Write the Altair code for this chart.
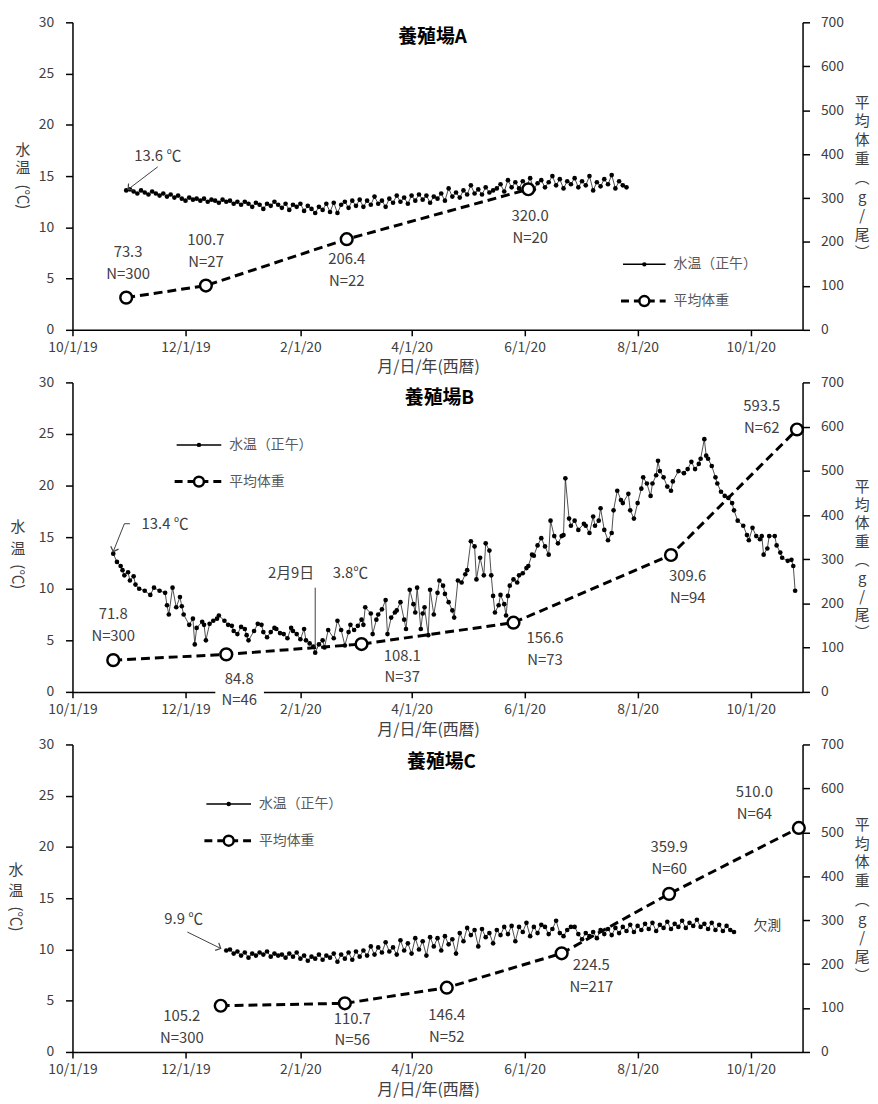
import altair as alt
import pandas as pd

FONT = "Noto Sans CJK JP"
GREY = "#404040"
LEG = "#595959"
BASE = pd.Timestamp("2019-10-01")


def to_date(day):
    return (BASE + pd.Timedelta(days=int(day))).strftime("%Y-%m-%d")


# ======================= DATA =======================
# Farm A: noon water temperature (every 2nd day from 2019-10-30)
A_temp_first_day = 29
A_temp_every = 2
A_temp = [
    13.6, 13.7, 13.5, 13.3, 13.6, 13.4, 13.2, 13.5, 13.3, 13.1,
    13.3, 13.0, 13.2, 12.9, 13.1, 12.8, 12.6, 12.9, 12.7, 12.8,
    12.6, 12.8, 12.5, 12.7, 12.6, 12.4, 12.7, 12.5, 12.6, 12.3,
    12.5, 12.2, 12.5, 12.3, 12.0, 12.4, 12.2, 11.8, 12.3, 12.1,
    12.5, 12.2, 11.9, 12.3, 11.7, 12.2, 12.0, 12.3, 11.6, 12.1,
    11.8, 11.4, 12.0, 11.7, 12.3, 11.5, 12.4, 11.4, 12.2, 12.5,
    11.9, 12.6, 12.1, 12.7, 12.0, 12.6, 12.2, 13.0, 12.3, 12.6,
    12.0, 12.8, 12.4, 13.1, 12.5, 12.9, 12.3, 13.1, 12.6, 13.2,
    12.7, 13.1, 12.4, 13.0, 12.8, 13.3, 12.6, 13.8, 13.0, 13.4,
    12.9, 13.6, 13.2, 14.1, 13.3, 13.7, 13.2, 13.9, 13.4, 13.6,
    13.8, 14.2, 13.5, 14.6, 13.9, 14.4, 13.8, 14.5, 14.0, 14.8,
    13.7, 14.3, 14.6, 13.9, 14.4, 15.0, 14.1, 14.7, 13.8, 14.5,
    14.2, 14.8, 13.9, 14.5, 14.1, 15.0, 13.6, 14.4, 14.0, 14.7,
    14.2, 15.1, 13.8, 14.5, 14.1, 13.9,
]
A_weight_date = ["2019-10-30", "2019-12-12", "2020-02-26", "2020-06-03"]
A_weight = [73.3, 100.7, 206.4, 320.0]
A_n = ["N=300", "N=27", "N=22", "N=20"]

# Farm B: noon water temperature (day = days since 2019-10-01)
B_temp_day = [
    22, 24, 26, 27, 28, 30, 31, 33, 34, 36, 39, 42, 44, 47, 50, 51, 52, 54, 56, 58,
    59, 60, 63, 65, 66, 67, 70, 71, 72, 74, 76, 78, 79, 82, 84, 86, 87, 89, 91, 93,
    94, 95, 98, 100, 102, 103, 105, 107, 109, 110, 112, 114, 116, 118, 119, 121, 123, 125, 126, 128,
    130, 131, 133, 135, 136, 138, 141, 143, 145, 147, 149, 150, 152, 154, 156, 157, 158, 161, 162, 164,
    165, 167, 169, 170, 172, 174, 175, 177, 179, 180, 182, 184, 185, 186, 188, 189, 190, 192, 193, 195,
    197, 198, 200, 201, 203, 205, 206, 208, 210, 212, 213, 215, 217, 218, 220, 222, 223, 225, 226, 227,
    228, 230, 231, 233, 234, 235, 236, 238, 240, 241, 243, 245, 246, 248, 249, 251, 253, 255, 257, 258,
    260, 262, 264, 265, 266, 268, 269, 271, 273, 276, 277, 279, 281, 282, 284, 285, 287, 289, 291, 292,
    294, 296, 297, 300, 301, 303, 305, 307, 308, 310, 312, 313, 315, 316, 317, 319, 321, 323, 324, 327,
    330, 332, 334, 336, 338, 339, 341, 342, 343, 345, 347, 348, 350, 352, 354, 356, 357, 359, 362, 364,
    365, 367, 369, 371, 372, 373, 375, 376, 379, 380, 382, 383, 386, 388, 389, 390,
]
B_temp = [
    13.4, 12.6, 12.2, 11.8, 11.3, 11.6, 10.8, 11.2, 10.4, 10.0, 9.8, 9.4, 10.1, 9.8, 9.6, 8.4, 7.5, 10.1, 8.2, 9.2,
    8.3, 7.5, 6.5, 7.1, 4.6, 6.2, 6.8, 6.5, 5.0, 6.6, 6.9, 7.1, 7.4, 6.9, 6.5, 6.4, 5.9, 5.6, 6.3, 6.1,
    5.5, 5.0, 5.9, 6.6, 6.5, 5.8, 5.3, 5.8, 6.2, 6.1, 5.7, 5.6, 5.2, 6.2, 5.9, 5.6, 5.1, 6.1, 5.0, 4.7,
    4.4, 3.8, 4.6, 5.0, 4.3, 6.0, 5.2, 6.9, 6.0, 4.5, 5.8, 6.5, 6.0, 6.4, 7.0, 6.5, 8.2, 7.6, 5.6, 7.0,
    7.5, 8.0, 8.9, 5.6, 7.2, 7.7, 7.9, 8.7, 7.0, 6.1, 9.9, 8.5, 7.7, 10.1, 6.1, 7.6, 8.2, 5.5, 9.9, 7.5,
    9.6, 10.8, 10.3, 9.5, 8.7, 7.9, 7.2, 10.8, 10.6, 11.4, 11.8, 14.6, 14.1, 10.9, 13.0, 11.3, 14.4, 13.7, 11.3, 9.3,
    7.7, 8.4, 9.4, 8.5, 7.4, 9.3, 10.3, 10.9, 10.6, 11.3, 11.5, 12.0, 12.2, 13.3, 13.2, 14.2, 14.9, 14.1, 13.3, 16.6,
    15.1, 14.4, 15.1, 15.2, 20.7, 16.8, 16.1, 16.6, 15.7, 16.3, 16.1, 15.4, 17.0, 16.1, 16.6, 17.8, 15.7, 14.7, 15.4, 17.6,
    19.5, 18.6, 18.3, 19.2, 17.6, 16.8, 18.3, 19.7, 20.8, 20.2, 19.0, 20.2, 21.0, 22.4, 21.4, 20.8, 19.9, 19.5, 20.4, 21.4,
    21.2, 21.6, 22.3, 21.6, 22.1, 22.6, 24.5, 22.9, 22.6, 21.9, 20.8, 20.2, 19.4, 19.0, 18.8, 18.3, 17.6, 16.6, 16.1, 15.2,
    14.7, 15.9, 15.1, 14.8, 15.1, 13.3, 13.9, 15.1, 15.1, 14.2, 13.5, 13.0, 12.7, 12.8, 12.2, 9.8,
]
B_weight_date = ["2019-10-23", "2019-12-23", "2020-03-05", "2020-05-26", "2020-08-19", "2020-10-26"]
B_weight = [71.8, 84.8, 108.1, 156.6, 309.6, 593.5]
B_n = ["N=300", "N=46", "N=37", "N=73", "N=94", "N=62"]

# Farm C: noon water temperature (every 2nd day from 2019-12-23)
C_temp_first_day = 83
C_temp_every = 2
C_temp = [
    9.9, 10.0, 9.6, 9.8, 9.4, 9.7, 9.2, 9.6, 9.4, 9.7,
    9.5, 9.8, 9.3, 9.6, 9.4, 9.5, 9.2, 9.6, 9.3, 9.7,
    9.1, 9.4, 8.9, 9.3, 9.1, 9.5, 9.0, 9.4, 9.2, 9.6,
    8.8, 9.5, 9.1, 9.7, 9.0, 9.8, 9.3, 9.9, 9.4, 10.3,
    9.5, 10.2, 9.7, 10.7, 9.8, 10.2, 9.5, 10.9, 9.9, 10.6,
    9.6, 11.1, 10.0, 10.8, 9.4, 11.2, 10.3, 11.1, 9.9, 11.3,
    10.5, 11.0, 9.6, 11.6, 10.8, 12.1, 11.4, 11.9, 10.3, 12.0,
    11.2, 11.6, 10.6, 11.9, 11.4, 12.2, 11.5, 12.3, 10.8, 12.2,
    11.7, 12.6, 11.3, 12.2, 11.6, 12.4, 12.2, 11.5, 12.0, 12.8,
    11.6, 11.3, 11.9, 12.2, 12.2, 11.5, 11.0, 11.6, 11.3, 11.7,
    11.1, 11.9, 11.5, 12.0, 11.4, 12.1, 11.6, 12.2, 11.8, 12.4,
    11.7, 12.3, 11.9, 12.5, 12.0, 12.6, 11.8, 12.4, 12.1, 12.7,
    12.0, 12.5, 12.2, 12.8, 12.1, 12.6, 12.3, 12.9, 12.2, 12.5,
    12.0, 12.6, 11.9, 12.4, 11.8, 12.3, 11.9, 11.7,
]
C_weight_date = ["2019-12-20", "2020-02-25", "2020-04-20", "2020-06-21", "2020-08-18", "2020-10-27"]
C_weight = [105.2, 110.7, 146.4, 224.5, 359.9, 510.0]
C_n = ["N=300", "N=56", "N=52", "N=217", "N=60", "N=64"]

# label anchors: first line of each label (days since 2019-10-01, weight units)
A_lab_day = [30, 72, 148, 247]
A_lab_w = [177, 204, 161, 258]
B_lab_day = [22, 90, 178, 255, 332, 372]
B_lab_w = [176, 30, 82, 122, 262, 647]
C_lab_day = [59, 151, 202, 280, 322, 368]
C_lab_w = [81, 76, 84, 198, 467, 592]

X_TICK_YM = [(2019, 10), (2019, 12), (2020, 2), (2020, 4), (2020, 6), (2020, 8), (2020, 10)]

# ======================= HELPERS =======================
W = 736
X_DOMAIN = [alt.DateTime(year=2019, month=10, date=1, utc=True),
            alt.DateTime(year=2020, month=10, date=29, utc=True)]
XAXIS = alt.Axis(
    values=[alt.DateTime(year=y, month=m, date=1, utc=True) for y, m in X_TICK_YM],
    labelExpr="utcFormat(datum.value, '%-m/%-d/%y')",
    title=None, grid=False, tickSize=6, tickWidth=1.5, tickColor="black",
    domainColor="black", domainWidth=1.5, labelPadding=5, labelFontSize=14,
    labelColor=GREY, labelFont=FONT, labelFlush=False, labelOverlap=False,
)
TAXIS = alt.Axis(
    values=list(range(0, 31, 5)), orient="left", title=None, grid=False,
    tickSize=7, tickWidth=1.5, tickColor="black", domainColor="black", domainWidth=1.5,
    labelPadding=12, labelFontSize=14, labelColor=GREY, labelFont=FONT, labelFlush=False,
)
WAXIS = alt.Axis(
    values=list(range(0, 701, 100)), orient="right", title=None, grid=False,
    tickSize=7, tickWidth=1.5, tickColor="black", domainColor="black", domainWidth=1.5,
    labelPadding=11, labelFontSize=14, labelColor=GREY, labelFont=FONT, labelFlush=False,
)


def X():
    return alt.X("date:T", scale=alt.Scale(type="utc", domain=X_DOMAIN), axis=XAXIS)


def YT(axis=False):
    return alt.Y("temp:Q", scale=alt.Scale(domain=[0, 30], nice=False), axis=TAXIS if axis else None)


def YW(axis=False):
    return alt.Y("w:Q", scale=alt.Scale(domain=[0, 700], nice=False), axis=WAXIS if axis else None)


ONE = pd.DataFrame({"k": [0]})


def ptext(txt, x, y, size=15, color=GREY, weight="normal", angle=0, align="center", baseline="middle", lh=None):
    kw = dict(text=txt, font=FONT, fontSize=size, color=color, fontWeight=weight,
              align=align, baseline=baseline)
    if angle:
        kw["angle"] = angle
    if lh:
        kw["lineBreak"] = "\n"
        kw["lineHeight"] = lh
    return alt.Chart(ONE).mark_text(**kw).encode(x=alt.value(x), y=alt.value(y))


def legend(x0, x1, y1, y2):
    xm = (x0 + x1) / 2
    return [
        alt.Chart(ONE).mark_rule(color="black", strokeWidth=1.5).encode(
            x=alt.value(x0), x2=alt.value(x1), y=alt.value(y1)),
        alt.Chart(ONE).mark_circle(color="black", size=20, opacity=1).encode(
            x=alt.value(xm), y=alt.value(y1)),
        ptext("水温（正午）", x1 + 8, y1, size=14, color=LEG, align="left"),
        alt.Chart(ONE).mark_rule(color="black", strokeWidth=3, strokeDash=[8, 5]).encode(
            x=alt.value(x0 - 2), x2=alt.value(x1), y=alt.value(y2)),
        alt.Chart(ONE).mark_point(filled=True, fill="white", stroke="black", strokeWidth=2.5,
                                  size=100, opacity=1).encode(x=alt.value(xm), y=alt.value(y2)),
        ptext("平均体重", x1 + 8, y2, size=14, color=LEG, align="left"),
    ]


def frame_texts(H, title, tx, ty, lx, ly, rty, rlh):
    return [
        ptext(title, tx, ty, size=19, color="black", weight="bold"),
        ptext("月/日/年(西暦)", 359, H + 38, size=16),
        ptext("水", lx, ly[0], size=15),
        ptext("温", lx, ly[1], size=15),
        ptext("(℃)", lx, ly[2], size=15, angle=90),
        ptext("平\n均\n体\n重\n︵\ng\n/\n尾\n︶", 796, rty, size=15, baseline="top", lh=rlh),
    ]


def data_layers(t_dates, t_vals, w_dates, w_vals, w_ns, lab_days, lab_ws):
    tdf = pd.DataFrame({"date": t_dates, "temp": t_vals})
    wdf = pd.DataFrame({"date": w_dates, "w": w_vals})
    ldf = pd.DataFrame({
        "date": [to_date(d) for d in lab_days],
        "w": lab_ws,
        "text": [f"{v:.1f}\n{n}" for v, n in zip(w_vals, w_ns)],
    })
    return [
        alt.Chart(tdf).mark_line(color="#222222", strokeWidth=0.8).encode(x=X(), y=YT(True)),
        alt.Chart(tdf).mark_circle(color="black", size=22, opacity=1).encode(x=X(), y=YT()),
        alt.Chart(wdf).mark_line(color="black", strokeWidth=3, strokeDash=[9, 5]).encode(x=X(), y=YW(True)),
        alt.Chart(wdf).mark_point(filled=True, fill="white", stroke="black", strokeWidth=2.5,
                                  size=140, opacity=1).encode(x=X(), y=YW()),
        alt.Chart(ldf).mark_text(font=FONT, fontSize=15, color=GREY, lineBreak="\n",
                                 lineHeight=22, baseline="middle").encode(x=X(), y=YW(), text="text:N"),
    ]


def ttext(day, temp, txt, size=15, color=GREY, align="center"):
    df = pd.DataFrame({"date": [to_date(day)], "temp": [temp], "t": [txt]})
    return alt.Chart(df).mark_text(font=FONT, fontSize=size, color=color, align=align,
                                   baseline="middle").encode(x=X(), y=YT(), text="t:N")


def tline(days, temps, color=GREY, width=1):
    df = pd.DataFrame({"date": [to_date(d) for d in days], "temp": temps})
    return alt.Chart(df).mark_line(color=color, strokeWidth=width).encode(x=X(), y=YT())


def arrowhead(day, temp, angle):
    df = pd.DataFrame({"date": [to_date(day)], "temp": [temp]})
    return alt.Chart(df).mark_point(shape="M -1 1 L 0 0 L 1 1", filled=False, stroke=GREY,
                                    strokeWidth=1.2, size=70, angle=angle, opacity=1).encode(x=X(), y=YT())


# ======================= PANEL A =======================
HA = 310
A_dates = [to_date(A_temp_first_day + A_temp_every * i) for i in range(len(A_temp))]
A_layers = (
    data_layers(A_dates, A_temp, A_weight_date, A_weight, A_n, A_lab_day, A_lab_w)
    + [ttext(46, 17.0, "13.6 ℃"), tline([30, 46], [13.7, 15.9]), arrowhead(30, 13.7, 230)]
    + legend(555, 598, 244, 281)
    + frame_texts(HA, "養殖場A", 363, 15, -50, [129, 147, 176], 74, 19)
)
panelA = alt.layer(*A_layers).resolve_scale(y="independent").properties(width=W, height=HA)

# ======================= PANEL B =======================
HB = 312
B_dates = [to_date(d) for d in B_temp_day]
B_layers = (
    [alt.Chart(ONE).mark_rect(color="white").encode(
        x=alt.value(144), x2=alt.value(193), y=alt.value(288), y2=alt.value(330))]
    + data_layers(B_dates, B_temp, B_weight_date, B_weight, B_n, B_lab_day, B_lab_w)
    + [ttext(50, 16.3, "13.4 ℃"),
       tline([22, 28, 31], [13.6, 16.3, 16.3]),
       arrowhead(22, 13.6, 200),
       ttext(118, 11.5, "2月9日"),
       ttext(150, 11.5, "3.8℃"),
       tline([131, 131], [4.3, 10.1])]
    + legend(105, 150, 63, 100)
    + frame_texts(HB, "養殖場B", 370, 16, -55, [146, 168, 196], 98, 18.5)
)
panelB = alt.layer(*B_layers).resolve_scale(y="independent").properties(width=W, height=HB)

# ======================= PANEL C =======================
HC = 310
C_dates = [to_date(C_temp_first_day + C_temp_every * i) for i in range(len(C_temp))]
C_layers = (
    data_layers(C_dates, C_temp, C_weight_date, C_weight, C_n, C_lab_day, C_lab_w)
    + [ttext(60, 13.0, "9.9 ℃"), tline([62, 80], [11.7, 10.1]), arrowhead(80, 10.1, 116),
       ttext(375, 12.3, "欠測", size=14)]
    + legend(135, 180, 60, 97)
    + frame_texts(HC, "養殖場C", 372, 18, -57, [127, 148, 176], 74, 19)
)
panelC = alt.layer(*C_layers).resolve_scale(y="independent").properties(width=W, height=HC)

chart = (
    alt.vconcat(panelA, panelB, panelC, spacing=53, bounds="flush")
    .properties(padding={"left": 0, "top": 3, "right": 0, "bottom": 0})
    .configure_view(stroke=None)
)

chart.save("out.html", embed_options={"renderer": "svg", "actions": False})
